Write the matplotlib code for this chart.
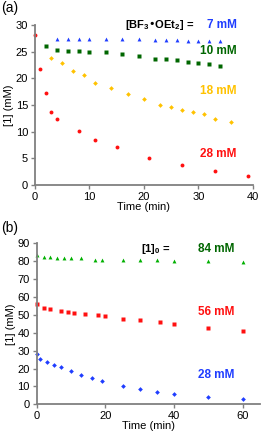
import matplotlib
matplotlib.use("Agg")
import matplotlib.pyplot as plt

plt.rcParams['font.family'] = ['Liberation Sans', 'DejaVu Sans']
plt.rcParams['mathtext.default'] = 'regular'

# ---- panel (a): different [BF3*OEt2] ----
t_7 = [4, 6, 8, 10, 13, 16, 19, 22, 24, 26, 28, 30, 32, 34]
c_7 = [27.3, 27.3, 27.3, 27.3, 27.3, 27.3, 27.3, 27.2, 27.2, 27.2, 27.0, 27.0, 27.0, 27.0]
t_10 = [2, 4, 6, 8, 10, 13, 16, 19, 22, 24, 26, 28, 30, 32, 34]
c_10 = [26.0, 25.4, 25.1, 25.1, 24.9, 24.9, 24.6, 24.2, 23.6, 23.6, 23.4, 23.1, 22.9, 22.6, 22.3]
t_18 = [3, 5, 7, 9, 11, 14, 17, 20, 23, 25, 27, 29, 31, 33, 36]
c_18 = [23.9, 22.8, 21.4, 20.6, 19.2, 18.1, 17.1, 16.1, 15.0, 14.7, 14.1, 13.6, 13.3, 12.4, 11.9]
t_28 = [0, 1, 2, 3, 4, 8, 11, 15, 21, 27, 33, 39]
c_28 = [28.2, 21.7, 17.2, 13.75, 12.4, 10.2, 8.5, 7.1, 5.1, 3.7, 2.6, 1.75]

# ---- panel (b): different [1]0 ----
t_84 = [0, 2, 4, 6, 8, 10, 13, 17, 19, 25, 30, 35, 40, 50, 60]
c_84 = [83.6, 82.5, 82.5, 81.6, 81.6, 81.6, 81.6, 80.7, 80.7, 80.7, 80.7, 80.7, 80.1, 80.1, 79.5]
t_56 = [0, 2, 4, 7, 9, 11, 14, 18, 20, 25, 30, 36, 40, 50, 60]
c_56 = [56.1, 53.8, 53.3, 52.2, 51.6, 51.0, 50.7, 50.1, 49.5, 47.7, 47.1, 46.2, 45.1, 42.8, 41.0]
t_28b = [0, 1, 3, 5, 7, 10, 13, 16, 19, 25, 30, 35, 40, 50, 60]
c_28b = [27.9, 25.3, 23.8, 22.1, 20.7, 18.6, 16.5, 14.9, 12.9, 10.4, 8.4, 7.0, 5.9, 4.1, 3.1]

blue = '#1f3dff'
dgreen = '#006600'
lgreen = '#00b000'
gold = '#ffc200'
red = '#ff1010'

fig = plt.figure(figsize=(2.62, 4.41), dpi=100)
ax1 = fig.add_axes([0.1336, 0.5805, 0.832, 0.3628])
ax2 = fig.add_axes([0.140, 0.0832, 0.852, 0.3651])


def style(ax):
    for s in ['top', 'right']:
        ax.spines[s].set_visible(False)
    for s in ['left', 'bottom']:
        ax.spines[s].set_color('#808080')
        ax.spines[s].set_linewidth(1.3)
    ax.tick_params(direction='out', length=3, width=1, color='#808080',
                   labelsize=8, pad=2)
    ax.set_xlabel('Time (min)', fontsize=8, labelpad=0)
    ax.set_ylabel('[1] (mM)', fontsize=8, labelpad=1)


ms = 2.8
ax1.plot(t_7, c_7, '^', color=blue, ms=ms, mec='none', clip_on=False)
ax1.plot(t_10, c_10, 's', color=dgreen, ms=ms, mec='none', clip_on=False)
ax1.plot(t_18, c_18, 'D', color=gold, ms=ms - 0.4, mec='none', clip_on=False)
ax1.plot(t_28, c_28, 'o', color=red, ms=ms, mec='none', clip_on=False)
ax1.set_xlim(0, 40)
ax1.set_ylim(0, 30)
ax1.set_xticks([0, 10, 20, 30, 40])
ax1.set_yticks([0, 5, 10, 15, 20, 25, 30])
style(ax1)
ax1.text(29.3, 30, '[BF$_3$•OEt$_2$] =', fontsize=8, fontweight='bold',
         ha='right', va='center')
ax1.text(37, 30, '7 mM', color=blue, fontsize=8.5, fontweight='bold', ha='right', va='center')
ax1.text(37, 25.1, '10 mM', color=dgreen, fontsize=8.5, fontweight='bold', ha='right', va='center')
ax1.text(37, 17.7, '18 mM', color=gold, fontsize=8.5, fontweight='bold', ha='right', va='center')
ax1.text(37, 5.75, '28 mM', color=red, fontsize=8.5, fontweight='bold', ha='right', va='center')
fig.text(0.005, 0.982, '(a)', fontsize=10, ha='left', va='center')

ax2.plot(t_84, c_84, '^', color=lgreen, ms=ms, mec='none', clip_on=False)
ax2.plot(t_56, c_56, 's', color=red, ms=ms, mec='none', clip_on=False)
ax2.plot(t_28b, c_28b, 'D', color=blue, ms=ms - 0.4, mec='none', clip_on=False)
ax2.set_xlim(0, 65)
ax2.set_ylim(0, 90)
ax2.set_xticks([0, 20, 40, 60])
ax2.set_yticks([0, 10, 20, 30, 40, 50, 60, 70, 80, 90])
style(ax2)
ax2.text(39, 86.6, '[1]$_0$ =', fontsize=8, fontweight='bold', ha='right', va='center')
ax2.text(57.6, 86.6, '84 mM', color=dgreen, fontsize=8.5, fontweight='bold', ha='right', va='center')
ax2.text(57.6, 51.6, '56 mM', color=red, fontsize=8.5, fontweight='bold', ha='right', va='center')
ax2.text(57.6, 16.4, '28 mM', color=blue, fontsize=8.5, fontweight='bold', ha='right', va='center')
fig.text(0.005, 0.484, '(b)', fontsize=10, ha='left', va='center')

fig.savefig('out.png', dpi=100)
